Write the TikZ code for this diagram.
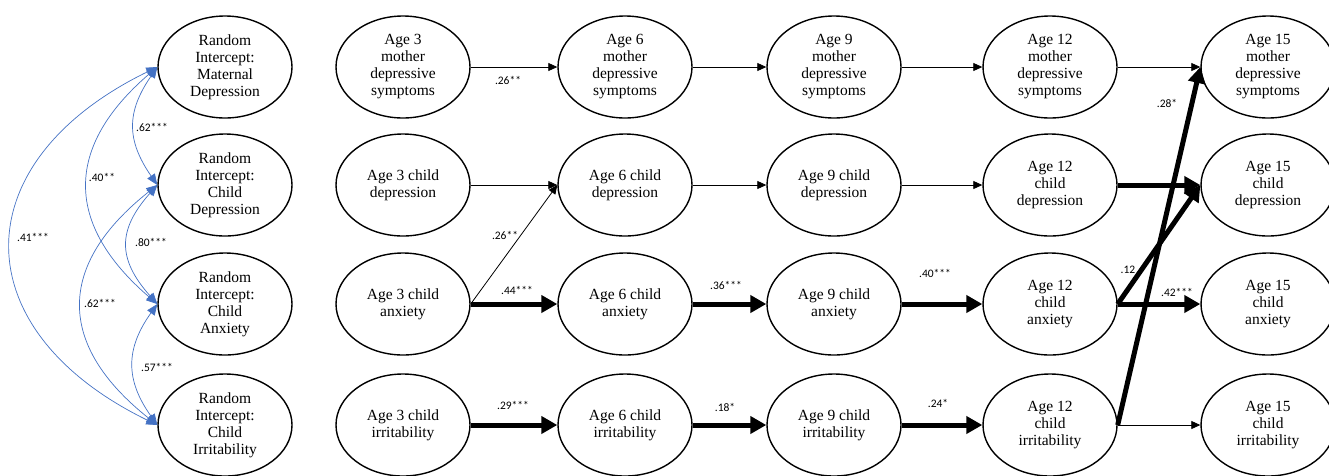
\documentclass[tikz,border=0pt]{standalone}
\usepackage{fontspec}
\setmainfont{Liberation Serif}
\newfontfamily\nodefont{Liberation Serif}
\newfontfamily\labelfont{Carlito}
\usetikzlibrary{arrows.meta,shapes.geometric}
\definecolor{covblue}{RGB}{68,114,196}

\begin{document}
\begin{tikzpicture}[x=1pt,y=1pt,
    latent/.style={draw,ellipse,line width=1.4pt,minimum width=134pt,minimum height=102pt,inner sep=0pt,align=center,font=\nodefont\fontsize{15.5}{17}\selectfont},
    reg/.style={-{Triangle[length=9pt,width=8pt]},line width=0.8pt},
    regbold/.style={-{Triangle[length=16pt,width=17pt]},line width=5pt},
    corr/.style={{Triangle[length=11pt,width=9pt]}-{Triangle[length=11pt,width=9pt]},line width=0.7pt,draw=covblue,fill=none},
    est/.style={font=\labelfont\fontsize{11.5}{13}\selectfont,inner sep=0pt}]
        \useasboundingbox (0,0) rectangle (1329,-475);
        % random intercepts
        \node[latent] (rimom) at (225,-67) {Random\\Intercept:\\Maternal\\Depression};
        \node[latent] (ridep) at (225,-185) {Random\\Intercept:\\Child\\Depression};
        \node[latent] (rianx) at (225,-304) {Random\\Intercept:\\Child\\Anxiety};
        \node[latent] (riirr) at (225,-425) {Random\\Intercept:\\Child\\Irritability};
        % age 3
        \node[latent] (mom3) at (403,-67) {Age 3\\mother\\depressive\\symptoms};
        \node[latent] (dep3) at (403,-185) {Age 3 child\\depression};
        \node[latent] (anx3) at (403,-304) {Age 3 child\\anxiety};
        \node[latent] (irr3) at (403,-425) {Age 3 child\\irritability};
        % age 6
        \node[latent] (mom6) at (625,-67) {Age 6\\mother\\depressive\\symptoms};
        \node[latent] (dep6) at (625,-185) {Age 6 child\\depression};
        \node[latent] (anx6) at (625,-304) {Age 6 child\\anxiety};
        \node[latent] (irr6) at (625,-425) {Age 6 child\\irritability};
        % age 9
        \node[latent] (mom9) at (834,-67) {Age 9\\mother\\depressive\\symptoms};
        \node[latent] (dep9) at (834,-185) {Age 9 child\\depression};
        \node[latent] (anx9) at (834,-304) {Age 9 child\\anxiety};
        \node[latent] (irr9) at (834,-425) {Age 9 child\\irritability};
        % age 12
        \node[latent] (mom12) at (1050,-67) {Age 12\\mother\\depressive\\symptoms};
        \node[latent] (dep12) at (1050,-185) {Age 12\\child\\depression};
        \node[latent] (anx12) at (1050,-304) {Age 12\\child\\anxiety};
        \node[latent] (irr12) at (1050,-425) {Age 12\\child\\irritability};
        % age 15
        \node[latent] (mom15) at (1268,-67) {Age 15\\mother\\depressive\\symptoms};
        \node[latent] (dep15) at (1268,-185) {Age 15\\child\\depression};
        \node[latent] (anx15) at (1268,-304) {Age 15\\child\\anxiety};
        \node[latent] (irr15) at (1268,-425) {Age 15\\child\\irritability};
        % covariances between intercepts
        \draw[corr] (rimom.west) .. controls +(-31,-45) and +(-31,45) .. (ridep.west);
        \draw[corr] (rimom.west) .. controls +(-93,-80) and +(-93,80) .. (rianx.west);
        \draw[corr] (rimom.west) .. controls +(-195,-95) and +(-195,95) .. (riirr.west);
        \draw[corr] (ridep.west) .. controls +(-40,-45) and +(-40,45) .. (rianx.west);
        \draw[corr] (ridep.west) .. controls +(-101,-80) and +(-101,80) .. (riirr.west);
        \draw[corr] (rianx.west) .. controls +(-32,-45) and +(-32,45) .. (riirr.west);
        \node[est] (c1) at (152,-127) {.62***};
        \node[est] (c2) at (102,-177) {.40**};
        \node[est] (c3) at (33,-237) {.41***};
        \node[est] (c4) at (151,-242) {.80***};
        \node[est] (c5) at (100,-303) {.62***};
        \node[est] (c6) at (157,-367) {.57***};
        % mother paths
        \draw[reg] (mom3) -- (mom6);
        \draw[reg] (mom6) -- (mom9);
        \draw[reg] (mom9) -- (mom12);
        \draw[reg] (mom12) -- (mom15);
        % depression paths
        \draw[reg] (dep3) -- (dep6);
        \draw[reg] (dep6) -- (dep9);
        \draw[reg] (dep9) -- (dep12);
        \draw[regbold] (dep12) -- (dep15);
        % anxiety paths
        \draw[reg] (anx3.east) -- (dep6.west);
        \draw[regbold] (anx3) -- (anx6);
        \draw[regbold] (anx6) -- (anx9);
        \draw[regbold] (anx9) -- (anx12);
        \draw[regbold] (anx12) -- (anx15);
        \draw[regbold] (anx12.east) -- (dep15.west);
        % irritability paths
        \draw[regbold] (irr3) -- (irr6);
        \draw[regbold] (irr6) -- (irr9);
        \draw[regbold] (irr9) -- (irr12);
        \draw[reg] (irr12) -- (irr15);
        \draw[regbold] (irr12.east) -- (mom15.west);
        % estimates
        \node[est] (e1) at (508,-80) {.26**};
        \node[est] (e2) at (505,-235) {.26**};
        \node[est] (e3) at (517,-290) {.44***};
        \node[est] (e4) at (513,-405) {.29***};
        \node[est] (e5) at (726,-285) {.36***};
        \node[est] (e6) at (935,-273) {.40***};
        \node[est] (e7) at (725,-407) {.18*};
        \node[est] (e8) at (938,-403) {.24*};
        \node[est] (e9) at (1167,-103) {.28*};
        \node[est] (e10) at (1128,-270) {.12};
        \node[est] (e11) at (1177,-292) {.42***};
    \end{tikzpicture}
\end{document}
